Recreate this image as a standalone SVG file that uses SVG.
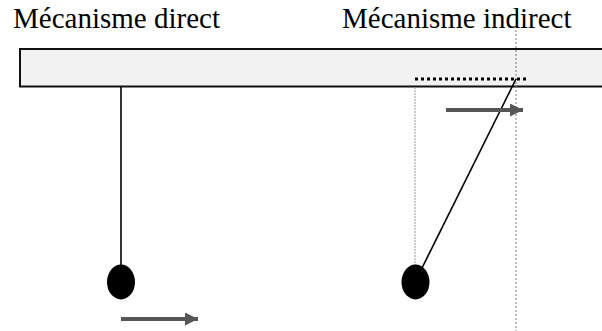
<svg xmlns="http://www.w3.org/2000/svg" width="602" height="331" viewBox="0 0 602 331">
<style>
.lbl{font-family:"Liberation Serif","Times New Roman",serif;font-size:29px;fill:#000}
.rod{stroke:#000;stroke-width:1.6;fill:none}
.ball{fill:#000}
.arr{stroke:#555;stroke-width:4;fill:none}
</style>
<defs>
<marker id="ah" viewBox="0 0 10 10" refX="10" refY="5" markerUnits="userSpaceOnUse" markerWidth="20" markerHeight="13" orient="auto">
<path d="M0,0 L10,5 L0,10 z" fill="#555"/>
</marker>
</defs>
<rect x="0" y="0" width="602" height="331" fill="#fff"/>
<g id="bar"><rect x="20" y="49" width="600" height="37.5" fill="#f2f2f2" stroke="#111" stroke-width="2"/></g>
<g id="label-direct"><text class="lbl" x="13" y="28">Mécanisme direct</text></g>
<g id="label-indirect"><text class="lbl" x="342" y="28">Mécanisme indirect</text></g>
<g id="connectors">
<line x1="516" y1="30" x2="516" y2="331" stroke="#777" stroke-width="1" stroke-dasharray="2 2"/>
<line x1="415" y1="87" x2="415" y2="266" stroke="#999" stroke-width="1" stroke-dasharray="2 1"/>
<line x1="415" y1="79" x2="528" y2="79" stroke="#000" stroke-width="3" stroke-dasharray="3 3"/>
<line class="rod" x1="121" y1="87" x2="121" y2="268"/>
<line class="rod" x1="516" y1="79" x2="422" y2="268"/>
<line class="arr" x1="121" y1="319" x2="198" y2="319" marker-end="url(#ah)"/>
<line class="arr" x1="446" y1="110" x2="523" y2="110" marker-end="url(#ah)"/>
</g>
<g id="ball-direct"><ellipse class="ball" cx="121" cy="282" rx="14" ry="17.5"/></g>
<g id="ball-indirect"><ellipse class="ball" cx="415.5" cy="282" rx="14" ry="17.5"/></g>
</svg>
